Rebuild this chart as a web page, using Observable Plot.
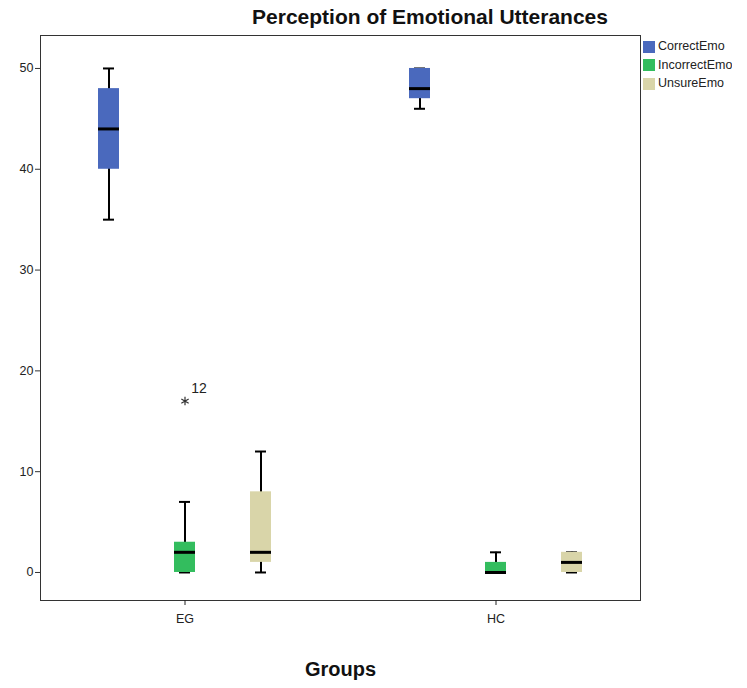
<!DOCTYPE html>
<html><head><meta charset="utf-8">
<script src="https://cdn.jsdelivr.net/npm/d3@7"></script>
<script src="https://cdn.jsdelivr.net/npm/@observablehq/plot@0.6"></script>
<style>
body{margin:0;background:#fff;}
#wrap{position:relative;width:747px;height:688px;font-family:"Liberation Sans",Arial,sans-serif;color:#111;}
#title{position:absolute;left:0;width:860px;top:5px;text-align:center;font-weight:bold;font-size:21px;}
#xlabel{position:absolute;left:40px;width:601px;top:658px;text-align:center;font-weight:bold;font-size:20px;}
#legend{position:absolute;left:643px;top:38px;}
#legend svg{margin-right:3px !important;}
#chart{position:absolute;left:0;top:0;}
</style></head>
<body>
<div id="wrap">
  <div id="chart"></div>
  <div id="title">Perception of Emotional Utterances</div>
  <div id="legend"></div>
  <div id="xlabel">Groups</div>
</div>
<script>
const groups = ["EG", "HC"];
const series = ["CorrectEmo", "IncorrectEmo", "UnsureEmo"];
const colors = ["#4A69BD", "#33BD5E", "#D9D5A9"];
// box statistics, ordered EG(Correct, Incorrect, Unsure), HC(Correct, Incorrect, Unsure)
const lowWhisker  = [35, 0, 0, 46, 0, 0];
const q1          = [40, 0, 1, 47, 0, 0];
const median      = [44, 2, 2, 48, 0, 1];
const q3          = [48, 3, 8, 50, 1, 2];
const highWhisker = [50, 7, 12, 50, 2, 2];
// outliers
const outlierGroup = ["EG"];
const outlierSeries = ["IncorrectEmo"];
const outlierValue = [17];
const outlierCase = ["12"];
const yTicks = [0, 10, 20, 30, 40, 50];

const rows = [];
groups.forEach((g, i) => series.forEach((s, j) => {
  const k = i * series.length + j;
  rows.push({group: g, series: s, low: lowWhisker[k], q1: q1[k], median: median[k], q3: q3[k], high: highWhisker[k]});
}));
const outliers = outlierGroup.map((g, i) => ({group: g, series: outlierSeries[i], value: outlierValue[i], label: outlierCase[i]}));

const font = {fontSize: "12.5px", fontFamily: "'Liberation Sans', Arial, sans-serif"};
const chart = Plot.plot({
  width: 747, height: 688,
  marginTop: 35, marginBottom: 88, marginLeft: 40, marginRight: 106,
  style: {...font, color: "#222", background: "transparent"},
  fx: {domain: groups, paddingInner: 0.07, paddingOuter: 0},
  x: {domain: series, paddingInner: 0.727, paddingOuter: 0.744, axis: null},
  y: {domain: [-2.78, 53.27]},
  color: {domain: series, range: colors},
  marks: [
    Plot.frame({facet: "super", stroke: "#333"}),
    Plot.axisY({ticks: yTicks, tickSize: 5, tickPadding: 2, label: null, stroke: "#333"}),
    Plot.axisFx({anchor: "bottom", tickSize: 5, tickPadding: 9, label: null}),
    Plot.ruleX(rows, {fx: "group", x: "series", y1: "low", y2: "high", stroke: "#000", strokeWidth: 2}),
    Plot.tickY(rows, {fx: "group", x: "series", y: "low", stroke: "#000", strokeWidth: 2, inset: 5}),
    Plot.tickY(rows, {fx: "group", x: "series", y: "high", stroke: "#000", strokeWidth: 2, inset: 5}),
    Plot.barY(rows, {fx: "group", x: "series", y1: "q1", y2: "q3", fill: "series"}),
    Plot.tickY(rows, {fx: "group", x: "series", y: "median", stroke: "#000", strokeWidth: 3}),
    Plot.dot(outliers, {fx: "group", x: "series", y: "value", symbol: "asterisk", r: 4, stroke: "#333", strokeWidth: 1.2}),
    Plot.text(outliers, {fx: "group", x: "series", y: "value", text: "label", dx: 14, dy: -13, fontSize: 14, fill: "#222"})
  ]
});
document.getElementById("chart").appendChild(chart);

const legend = Plot.legend({
  color: {domain: series, range: colors},
  legend: "swatches", columns: 1, swatchSize: 12,
  style: {fontSize: "12.5px", fontFamily: "'Liberation Sans', Arial, sans-serif", color: "#222", lineHeight: "17.5px", margin: "0"}
});
document.getElementById("legend").appendChild(legend);
</script>
</body></html>
